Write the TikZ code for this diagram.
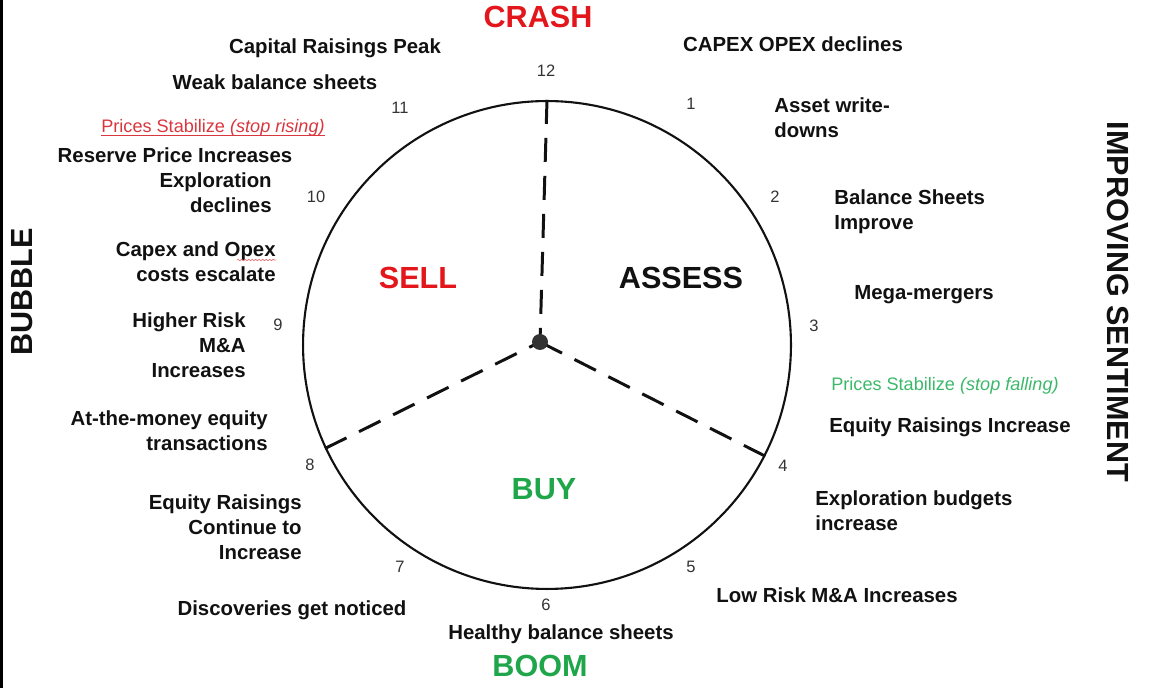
\documentclass[tikz,border=0pt]{standalone}
\usepackage{fontspec}
\setmainfont{Liberation Sans}
\usetikzlibrary{shapes.geometric, calc, decorations.pathmorphing}
\definecolor{crashred}{HTML}{E3161B}
\definecolor{boomgreen}{HTML}{1FA64A}
\definecolor{pricered}{HTML}{D9363E}
\definecolor{pricegreen}{HTML}{3DB86A}
\definecolor{ink}{HTML}{111111}
\definecolor{hourgray}{HTML}{333333}
\definecolor{hubgray}{HTML}{333333}
\tikzset{
    phase/.style={
        font=\fontsize{17.4}{20}\selectfont\bfseries,
        inner sep=0pt
    },
    note/.style={
        font=\fontsize{11.6}{14.2}\selectfont\bfseries,
        text=ink,
        inner sep=0pt
    },
    hour/.style={font=\fontsize{9.4}{10}\selectfont, text=hourgray, inner sep=0pt},
    price/.style={font=\fontsize{10.3}{12}\selectfont, inner sep=0pt},
    dial/.style={circle, draw=ink, line width=1.2pt, minimum size=9.76cm, inner sep=0pt},
    hub/.style={circle, fill=hubgray, minimum size=0.32cm, inner sep=0pt},
    dashedline/.style={draw=ink, line width=1.7pt, dash pattern=on 0.48cm off 0.28cm},
    squiggle/.style={draw=pricered!70, line width=0.4pt, decorate,
        decoration={snake, amplitude=0.4pt, segment length=2pt}}
}

\begin{document}
\begin{tikzpicture}[x=0.02cm, y=-0.02cm]
\useasboundingbox (0,0) rectangle (1156,688);
\draw[line width=2pt] (1,0) -- (1,688);

% the clock
\node[dial] (dial) at (547,345) {};
\coordinate (hubc) at (540,342);
\draw[dashedline] (dial.north) -- (hubc);
\draw[dashedline] (dial.205) -- (hubc);
\draw[dashedline] (dial.333) -- (hubc);
\node[hub] (hub) at (hubc) {};

% hours
\node[hour] (h12) at (546,71) {12};
\node[hour] (h1) at (691,104) {1};
\node[hour] (h2) at (775,197) {2};
\node[hour] (h3) at (814,326) {3};
\node[hour] (h4) at (783,466) {4};
\node[hour] (h5) at (691,567) {5};
\node[hour] (h6) at (546,605) {6};
\node[hour] (h7) at (400,567) {7};
\node[hour] (h8) at (310,465) {8};
\node[hour] (h9) at (278,325) {9};
\node[hour] (h10) at (316,197) {10};
\node[hour] (h11) at (400,108) {11};

% phases
\node[phase, text=crashred] (crash) at (538,17) {CRASH};
\node[phase, text=boomgreen] (boom) at (540,666) {BOOM};
\node[phase, text=ink, rotate=90] (bubble) at (22,292) {BUBBLE};
\node[phase, text=ink, rotate=-90] (sentiment) at (1118,302) {IMPROVING SENTIMENT};
\node[phase, text=crashred] (sell) at (418,278) {SELL};
\node[phase, text=ink] (assess) at (681,278) {ASSESS};
\node[phase, text=boomgreen] (buy) at (544,489) {BUY};

% right half
\node[note] (capexdown) at (793,44) {CAPEX OPEX declines};
\node[note, anchor=west, align=left] (writedown) at (774,118) {Asset write-\\downs};
\node[note, anchor=west, align=left] (improve) at (834,212) {Balance Sheets\\Improve};
\node[note] (mega) at (924,295) {Mega-mergers};
\node[price, text=pricegreen] (stopfall) at (945,386) {Prices Stabilize \textit{(stop falling)}};
\node[note] (eqinc) at (950,427) {Equity Raisings Increase};
\node[note, anchor=west, align=left] (budgets) at (815,511) {Exploration budgets\\increase};
\node[note] (lowrisk) at (837,595) {Low Risk M\&A Increases};

% left half
\node[note] (healthy) at (561,634) {Healthy balance sheets};
\node[note] (discover) at (292,610) {Discoveries get noticed};
\node[note, anchor=east, align=right] (eqcont) at (302,527) {Equity Raisings\\Continue to\\Increase};
\node[note, anchor=east, align=right] (atmoney) at (268,431) {At-the-money equity\\transactions};
\node[note, anchor=east, align=right] (highrisk) at (246,345) {Higher Risk\\M\&A\\Increases};
\node[note, anchor=east, align=right] (costs) at (276,262) {Capex and Opex\\costs escalate};
\draw[squiggle] (237,260) -- (276,260);
\node[note, anchor=east, align=right] (explodown) at (272,193) {Exploration\\declines};
\node[note] (reserve) at (175,155) {Reserve Price Increases};
\node[price, text=pricered] (stoprise) at (213,128) {Prices Stabilize \textit{(stop rising)}};
\draw[pricered, line width=0.5pt] ([yshift=-1.6pt]stoprise.base west) -- ([yshift=-1.6pt]stoprise.base east);
\node[note] (weak) at (275,82) {Weak balance sheets};
\node[note] (capital) at (335,48) {Capital Raisings Peak};
\end{tikzpicture}
\end{document}
